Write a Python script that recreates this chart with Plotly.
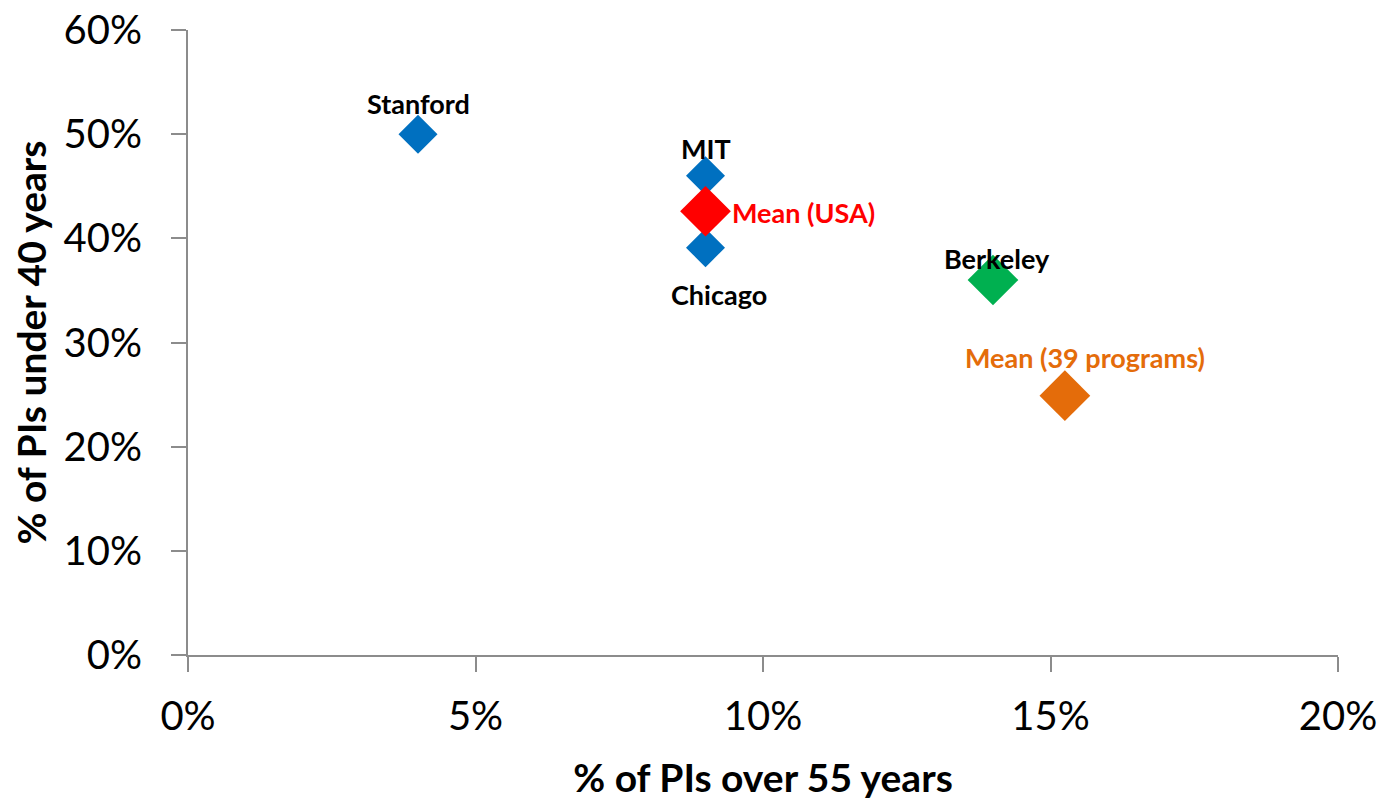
import plotly.graph_objects as go

# Data
names = ["Stanford", "MIT", "Chicago", "Berkeley", "Mean (USA)", "Mean (39 programs)"]
over55 = [0.04, 0.09, 0.09, 0.14, 0.09, 0.1525]
under40 = [0.50, 0.460, 0.391, 0.360, 0.426, 0.249]
colors = ["#0070C0", "#0070C0", "#0070C0", "#00B050", "#FF0000", "#E46C0A"]
sizes = [30, 30, 30, 39, 39, 39]
label_colors = ["black", "black", "black", "black", "#FF0000", "#E46C0A"]
# label placement (xanchor, xshift, yshift) in px
label_pos = [("center", 0, 31), ("center", 0, 27), ("center", 13, -47),
             ("center", 4, 22), ("left", 24, -1), ("center", 20, 38)]

x_ticks = [0, 0.05, 0.10, 0.15, 0.20]
x_tick_text = ["0%", "5%", "10%", "15%", "20%"]
y_ticks = [0, 0.1, 0.2, 0.3, 0.4, 0.5, 0.6]
y_tick_text = ["0%", "10%", "20%", "30%", "40%", "50%", "60%"]

FONT = "Lato"

fig = go.Figure()
fig.add_trace(go.Scatter(
    x=over55, y=under40, mode="markers",
    marker=dict(symbol="diamond", size=sizes, color=colors, opacity=1,
                line=dict(width=0)),
    hoverinfo="text", text=names, showlegend=False,
))

for n, x, y, c, (xa, dx, dy) in zip(names, over55, under40, label_colors, label_pos):
    fig.add_annotation(x=x, y=y, text="<b>%s</b>" % n, showarrow=False,
                       xanchor=xa, xshift=dx, yshift=dy,
                       font=dict(family=FONT, size=27, color=c))

axis_common = dict(showgrid=False, zeroline=False, showline=True,
                   linecolor="#8c8c8c", linewidth=2, ticks="outside",
                   ticklen=15, tickwidth=2, tickcolor="#8c8c8c",
                   automargin=False, ticklabeloverflow="allow",
                   tickfont=dict(family=FONT, size=40, color="black"))

fig.update_xaxes(range=[0, 0.20], tickvals=x_ticks, ticktext=x_tick_text,
                 title=dict(text="<b>% of PIs over 55 years</b>", standoff=27,
                            font=dict(family=FONT, size=39, color="black")),
                 ticklabelstandoff=10, **axis_common)
fig.update_yaxes(range=[0, 0.60], tickvals=y_ticks, ticktext=y_tick_text,
                 title=dict(text="<b>% of PIs under 40 years</b>", standoff=14,
                            font=dict(family=FONT, size=39, color="black")),
                 ticklabelstandoff=21, **axis_common)

fig.update_layout(
    width=1387, height=799,
    margin=dict(l=180, r=57, t=22, b=152),
    plot_bgcolor="white", paper_bgcolor="white",
)

fig.write_html("out.html")
